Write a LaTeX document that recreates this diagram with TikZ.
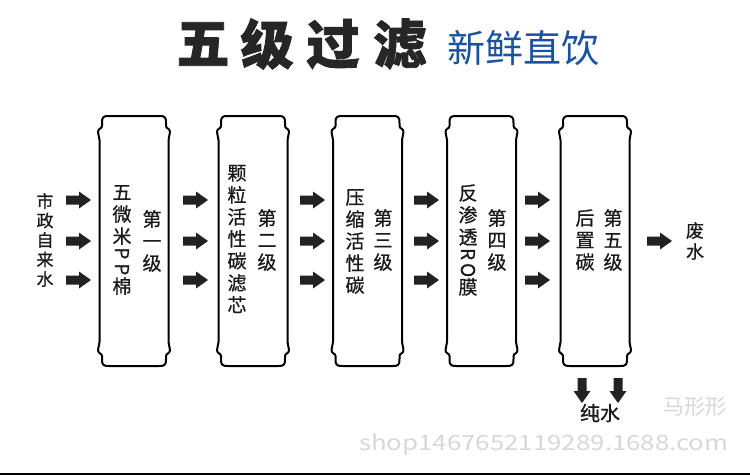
\documentclass[tikz,border=0pt]{standalone}
\usepackage{fontspec}
\usepackage{graphicx}
\newfontfamily\cjk{Noto Sans CJK SC}
\newfontfamily\cjkm{Noto Sans CJK SC}[FakeBold=0.7]
\newfontfamily\cjkh{Noto Sans CJK SC}[BoldFeatures={FakeBold=1.6}]
\definecolor{txt}{RGB}{26,26,26}
\definecolor{titlecol}{RGB}{38,38,38}
\definecolor{bluecol}{RGB}{26,82,160}
\definecolor{arrowfill}{RGB}{34,34,34}
\definecolor{wm}{RGB}{215,215,215}
\newcommand\rp[1]{\rotatebox[origin=c]{-90}{#1}}
\newcommand\cartridge[2]{%
\begin{scope}[shift={(#1,0)}]
\draw[cart] (-25,116) -- (25,116) .. controls (31,116) and (32,117) .. (32,123)
 -- (32,126) .. controls (32,129) and (36,128) .. (36,132) -- (34.5,140) -- (34.5,342)
 -- (36,350) .. controls (36,354) and (32,353) .. (32,356) -- (32,359)
 .. controls (32,365) and (31,366) .. (25,366) -- (-25,366)
 .. controls (-31,366) and (-32,365) .. (-32,359) -- (-32,356)
 .. controls (-32,353) and (-36,354) .. (-36,350) -- (-34.5,342) -- (-34.5,140)
 -- (-36,132) .. controls (-36,128) and (-32,129) .. (-32,126) -- (-32,123)
 .. controls (-32,117) and (-31,116) .. (-25,116) -- cycle;
\coordinate (#2) at (0,241);
\end{scope}}
\begin{document}
\begin{tikzpicture}[x=1pt,y=-1pt,
  cart/.style={draw=black,line width=2pt,line join=round},
  lab/.style={font=\cjkm\fontsize{19}{22}\selectfont,text=txt,align=center,inner sep=0pt},
  sidelab/.style={font=\cjkm\fontsize{17}{19.5}\selectfont,text=txt,align=center,inner sep=0pt},
  titlech/.style={font=\cjkh\bfseries\fontsize{53}{53}\selectfont,text=titlecol,inner sep=0pt},
  subtitle/.style={font=\cjk\fontsize{38}{38}\selectfont,text=bluecol,inner sep=0pt},
  wmark/.style={text=wm,inner sep=0pt},
  rarrow/.pic={\fill[arrowfill] (0,-4.5) -- (13,-4.5) -- (13,-8.5) -- (25,0) -- (13,8.5) -- (13,4.5) -- (0,4.5) -- cycle;}
]
\useasboundingbox (0,0) rectangle (750,475);
\fill[white] (0,0) rectangle (750,475);

% title
\node[titlech] (t1) at (203,44) {五};
\node[titlech] (t2) at (267,44) {级};
\node[titlech] (t3) at (333,44) {过};
\node[titlech] (t4) at (400,44) {滤};
\node[subtitle,anchor=west] (sub) at (447,48.5) {新鲜直饮};

% cartridges
\cartridge{134}{k1}
\cartridge{253}{k2}
\cartridge{367.5}{k3}
\cartridge{481.5}{k4}
\cartridge{595}{k5}

% labels
\node[sidelab] (in) at (45,240) {市\\政\\自\\来\\水};
\node[lab] (c1a) at (122,240) {五\\微\\米\\[-5pt]\rp{P}\\[-6pt]\rp{P}\\[-5pt]棉};
\node[lab] (c1b) at (152,241) {第\\一\\级};
\node[lab] (c2a) at (237,239) {颗\\粒\\活\\性\\碳\\滤\\芯};
\node[lab] (c2b) at (267,240) {第\\二\\级};
\node[lab] (c3a) at (355,241.5) {压\\缩\\活\\性\\碳};
\node[lab] (c3b) at (383,240) {第\\三\\级};
\node[lab] (c4a) at (468,240) {反\\渗\\透\\[-5pt]\rp{R}\\[-6pt]\rp{O}\\[-5pt]膜};
\node[lab] (c4b) at (497,240) {第\\四\\级};
\node[lab] (c5a) at (585,240) {后\\置\\碳};
\node[lab] (c5b) at (613,240) {第\\五\\级};
\node[font=\cjkm\fontsize{18}{21}\selectfont,text=txt,align=center,inner sep=0pt] (out) at (695,241) {废\\水};
\node[font=\cjkm\fontsize{20}{20}\selectfont,text=txt,inner sep=0pt] (pure) at (600,413) {纯水};

% arrows
\foreach \xx in {66,183,300,414,525} {
  \foreach \yy in {200,241,280} {
    \pic at (\xx,\yy) {rarrow};
  }
}
\pic at (647,241) {rarrow};
\pic[rotate=-90] at (582,378) {rarrow};
\pic[rotate=-90] at (618,378) {rarrow};

% watermark
\node[wmark,font=\cjk\fontsize{21}{21}\selectfont] (wm1) at (695,407) {马形形};
\node[wmark,font=\cjk\fontsize{21}{21}\selectfont,anchor=west] (wm2) at (359,445) {\scalebox{1.23}[1]{shop1467652119289.1688.com}};

% bottom rule
\draw[line width=2pt] (0,474) -- (750,474);
\end{tikzpicture}
\end{document}
